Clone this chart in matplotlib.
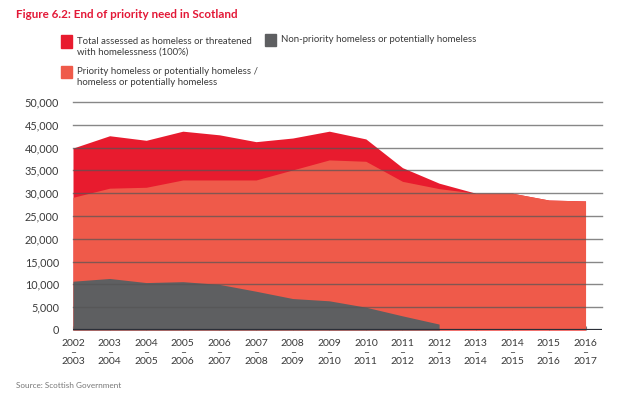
import matplotlib
matplotlib.use('Agg')
import matplotlib.pyplot as plt
import numpy as np

years = list(range(2002, 2017))
x_labels = ['%d\n–\n%d' % (y, y + 1) for y in years]

# values
total = [39900, 42600, 41600, 43600, 42800, 41300, 42100, 43600, 41900,
         35600, 32200, 30000, 30000, 28500, 28300]
priority = [29100, 31100, 31300, 32900, 32900, 32900, 35100, 37300, 37000,
            32600, 31000, 30000, 30000, 28500, 28300]
# non-priority stops after 2012-13
non_priority = [10700, 11300, 10400, 10600, 10000, 8500, 6900, 6400, 5000,
                3100, 1300]

c_total = '#e81b2e'
c_prio = '#ef5a4a'
c_nonp = '#5e5f61'
c_text = '#3a3a3a'

plt.rcParams['font.family'] = ['Lato', 'DejaVu Sans']

fig = plt.figure(figsize=(6.35, 3.95), dpi=100)
ax = fig.add_axes([73/635, 1-330/395, (602-73)/635, (330-102)/395])

ax.fill_between(years, 0, total, color=c_total, linewidth=0, zorder=1)
ax.fill_between(years, 0, priority, color=c_prio, linewidth=0, zorder=2)
ax.fill_between(years[:len(non_priority)], 0, non_priority, color=c_nonp, linewidth=0, zorder=3)

ax.set_xlim(2002, 2016.45)
ax.set_ylim(0, 50000)
yt = np.arange(0, 50001, 5000)
ax.set_yticks(yt)
ax.set_yticklabels(['{:,}'.format(v) for v in yt], fontsize=7.8, color=c_text)
for v in yt[1:]:
    ax.axhline(v, color='#555555', alpha=0.7, linewidth=1.0, zorder=4, clip_on=False)
ax.axhline(0, color='#2b2f38', linewidth=1.6, zorder=5)

ax.set_xticks(years)
ax.set_xticklabels(x_labels, fontsize=7.5, color=c_text, linespacing=1.0)
ax.tick_params(axis='x', direction='in', length=3, color='#777777', pad=6.5)
ax.tick_params(axis='y', length=0, pad=10)
for s in ax.spines.values():
    s.set_visible(False)

fig.text(16/635, 1-15/395, 'Figure 6.2: End of priority need in Scotland', color='#e31837',
         fontsize=8.4, fontweight='bold', va='center', ha='left')

def legend_item(x, y, color, text):
    fig.patches.append(plt.Rectangle((x/635, 1-(y+12)/395), 11/635, 12/395,
                                     transform=fig.transFigure, color=color, figure=fig))
    fig.text((x+16)/635, 1-(y+1)/395, text, fontsize=6.9, color=c_text,
             va='top', ha='left', linespacing=1.3)

legend_item(61, 35.5, c_total, 'Total assessed as homeless or threatened\nwith homelessness (100%)')
legend_item(61, 66, c_prio, 'Priority homeless or potentially homeless /\nhomeless or potentially homeless')
legend_item(265, 34, c_nonp, 'Non-priority homeless or potentially homeless')

fig.text(16/635, 1-386/395, 'Source: Scottish Government', fontsize=5.9, color='#777777',
         va='center', ha='left')

fig.savefig('out.png', dpi=100)
